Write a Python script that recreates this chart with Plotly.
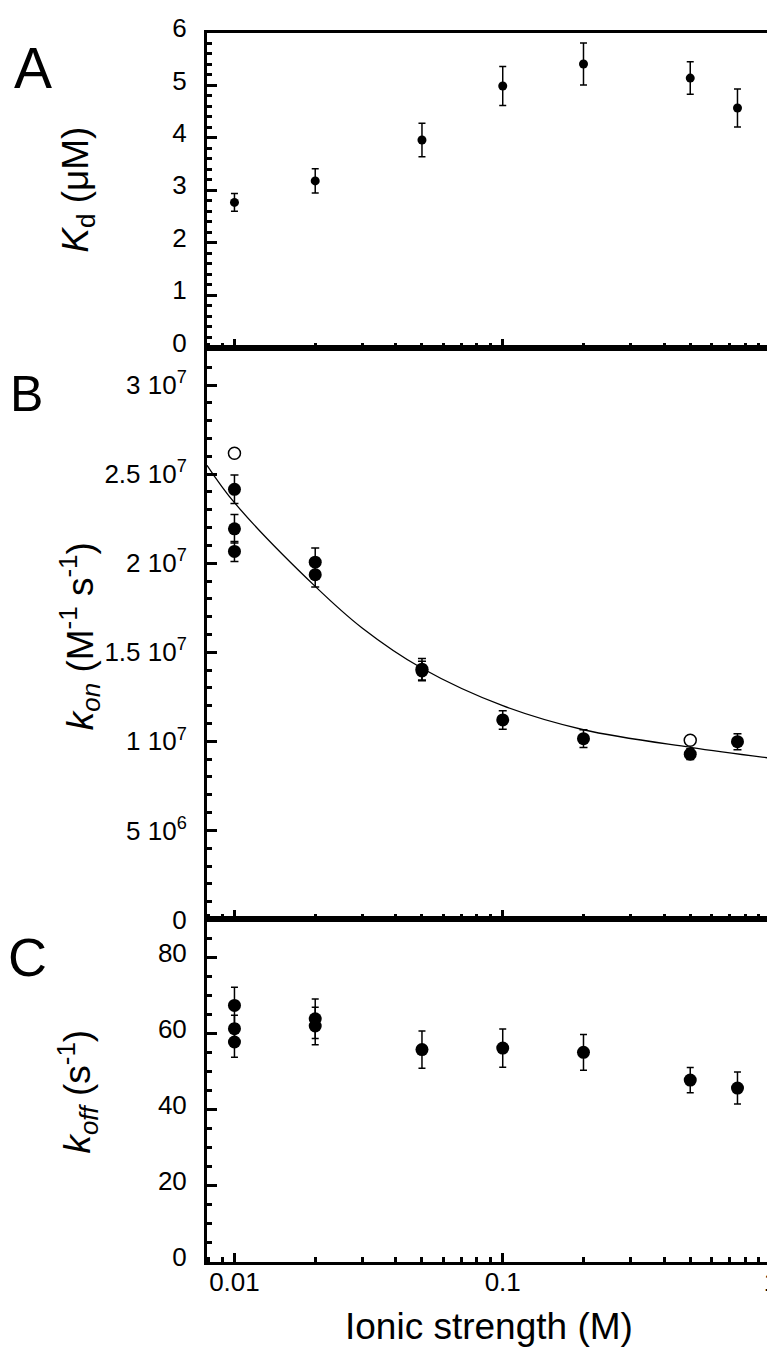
import numpy as np
import plotly.graph_objects as go

# ---------------- data ----------------
ionic_A = [0.01, 0.02, 0.05, 0.1, 0.2, 0.5, 0.75]
kd = [2.77, 3.18, 3.96, 4.99, 5.41, 5.14, 4.57]
kd_err = [0.17, 0.23, 0.32, 0.37, 0.40, 0.31, 0.36]

ionic_kon = [0.01, 0.01, 0.01, 0.02, 0.02, 0.05, 0.05, 0.1, 0.2, 0.5, 0.75]
kon = [2.415e7, 2.193e7, 2.066e7, 2.006e7, 1.936e7, 1.405e7, 1.395e7, 1.12e7, 1.015e7, 0.928e7, 0.998e7]
kon_err = [0.08e7, 0.08e7, 0.056e7, 0.08e7, 0.07e7, 0.06e7, 0.055e7, 0.052e7, 0.05e7, 0.03e7, 0.045e7]

ionic_open = [0.01, 0.5]
kon_open = [2.617e7, 1.006e7]

fit_I = [0.0079, 0.01, 0.02, 0.03, 0.05, 0.1, 0.2, 0.5, 1.0]
fit_kon = [2.55e7, 2.34e7, 1.87e7, 1.635e7, 1.41e7, 1.20e7, 1.065e7, 0.966e7, 0.905e7]

ionic_koff = [0.01, 0.01, 0.01, 0.02, 0.02, 0.05, 0.1, 0.2, 0.5, 0.75]
koff = [67.4, 61.3, 57.8, 63.9, 62.0, 55.8, 56.2, 55.1, 47.8, 45.7]
koff_err = [4.8, 3.5, 4.0, 5.2, 4.9, 4.9, 5.0, 4.7, 3.3, 4.2]

x_ticks = [0.01, 0.1, 1]
x_ticktext = ["0.01", "0.1", "1"]
kon_ticks = [0, 5e6, 1e7, 1.5e7, 2e7, 2.5e7, 3e7]
kon_ticktext = ["0", "5 10<sup>6</sup>", "1 10<sup>7</sup>", "1.5 10<sup>7</sup>",
                "2 10<sup>7</sup>", "2.5 10<sup>7</sup>", "3 10<sup>7</sup>"]

# ---------------- geometry ----------------
W, H = 775, 1349
ML, MR, MT, MB = 199, 5, 18, 95
PW = W - ML - MR
PH = H - MT - MB
bottom_px = H - MB


def py(p):  # page pixel y -> paper y
    return (bottom_px - p) / PH


def px(p):  # page pixel x -> paper x
    return (p - ML) / PW


FONT = "Arial, Liberation Sans, sans-serif"
BLACK = "#000000"
TICKFONT = dict(family=FONT, size=26, color=BLACK)

fig = go.Figure()

err_style = dict(type="data", thickness=1.5, color=BLACK)

fig.add_trace(go.Scatter(
    x=ionic_A, y=kd, mode="markers", xaxis="x", yaxis="y",
    marker=dict(size=9, color=BLACK),
    error_y=dict(array=kd_err, width=3.5, **err_style), showlegend=False))

fig.add_trace(go.Scatter(
    x=fit_I, y=fit_kon, mode="lines", xaxis="x2", yaxis="y2",
    line=dict(color=BLACK, width=1.3, shape="spline", smoothing=1.0), showlegend=False))

fig.add_trace(go.Scatter(
    x=ionic_kon, y=kon, mode="markers", xaxis="x2", yaxis="y2",
    marker=dict(size=13, color=BLACK),
    error_y=dict(array=kon_err, width=4, **err_style), showlegend=False))

fig.add_trace(go.Scatter(
    x=ionic_open, y=kon_open, mode="markers", xaxis="x2", yaxis="y2",
    marker=dict(size=12, color="white", line=dict(color=BLACK, width=1.5)), showlegend=False))

fig.add_trace(go.Scatter(
    x=ionic_koff, y=koff, mode="markers", xaxis="x3", yaxis="y3",
    marker=dict(size=13, color=BLACK),
    error_y=dict(array=koff_err, width=3.5, **err_style), showlegend=False))

minor_x = [v * m for v in (0.001, 0.01, 0.1) for m in range(2, 10)]

common_x = dict(
    type="log", range=[np.log10(0.0079), 0], showline=True, linecolor=BLACK, linewidth=3,
    mirror=True, ticks="inside", ticklen=9, tickwidth=2.5, tickcolor=BLACK,
    tickmode="array", tickvals=x_ticks, ticktext=x_ticktext,
    minor=dict(ticks="inside", ticklen=5, tickwidth=2.5, tickcolor=BLACK,
               tickmode="array", tickvals=minor_x, showgrid=False),
    showgrid=False, zeroline=False,
    tickfont=TICKFONT, ticklabelstandoff=-5)

common_y = dict(
    showline=True, linecolor=BLACK, linewidth=3, mirror=True,
    ticks="inside", ticklen=10, tickwidth=2.5, tickcolor=BLACK,
    showgrid=False, zeroline=False, ticklabeloverflow="allow",
    tickfont=TICKFONT, ticklabelstandoff=12)

dA = [py(334.5), 1.0]
dB = [py(909.5), py(334.5)]
dC = [0.0, py(909.5)]

fig.update_layout(
    width=W, height=H,
    margin=dict(l=ML, r=MR, t=MT, b=MB, pad=0),
    paper_bgcolor="white", plot_bgcolor="white",
    font=dict(family=FONT, color=BLACK),
    xaxis=dict(anchor="y", domain=[0, 1], showticklabels=False, **common_x),
    xaxis2=dict(anchor="y2", domain=[0, 1], matches="x", showticklabels=False, **common_x),
    xaxis3=dict(anchor="y3", domain=[0, 1], matches="x", showticklabels=True, **common_x),
    yaxis=dict(anchor="x", domain=dA, range=[0, 6], tickmode="linear", tick0=0, dtick=1,
               ticklabelshift=-5,
               minor=dict(ticks="inside", ticklen=5, tickwidth=2.5, tickcolor=BLACK, dtick=0.2, showgrid=False),
               **common_y),
    yaxis2=dict(anchor="x2", domain=dB, range=[0, 3.21e7], tickmode="array",
                tickvals=kon_ticks, ticktext=kon_ticktext,
                minor=dict(ticks="inside", ticklen=5, tickwidth=2.5, tickcolor=BLACK, dtick=1e6, showgrid=False),
                **common_y),
    yaxis3=dict(anchor="x3", domain=dC, range=[0, 90], tickmode="linear", tick0=0, dtick=20,
                ticklabelshift=-5,
                minor=dict(ticks="inside", ticklen=5, tickwidth=2.5, tickcolor=BLACK, dtick=5, showgrid=False),
                **common_y),
)

TITLE = 37
ann = []
# y-axis titles
ann.append(dict(text="<i>K</i><sub>d</sub> (μM)", x=px(68), y=py(176), textangle=-90))
ann.append(dict(text="<i>k<sub>on</sub></i> (M<sup>-1</sup> s<sup>-1</sup>)", x=px(70), y=py(625), textangle=-90))
ann.append(dict(text="<i>k<sub>off</sub></i> (s<sup>-1</sup>)", x=px(68), y=py(1083), textangle=-90))
for a in ann:
    a.update(xref="paper", yref="paper", xanchor="center", yanchor="middle", showarrow=False,
             font=dict(family=FONT, size=TITLE, color=BLACK))
# x-axis title
ann.append(dict(text="Ionic strength (M)", x=0.5, y=py(1319), xref="paper", yref="paper",
                xanchor="center", yanchor="middle", showarrow=False,
                font=dict(family=FONT, size=TITLE, color=BLACK)))
# panel letters
for letter, cx, cy, fs in (("A", 23, 53, 57), ("B", 16, 381, 50), ("C", 17, 947, 54)):
    ann.append(dict(text=letter, x=px(cx), y=py(cy), xref="paper", yref="paper",
                    xanchor="center", yanchor="middle", showarrow=False,
                    font=dict(family=FONT, size=fs, color=BLACK)))

fig.update_layout(annotations=ann)

fig.write_html("out.html")
